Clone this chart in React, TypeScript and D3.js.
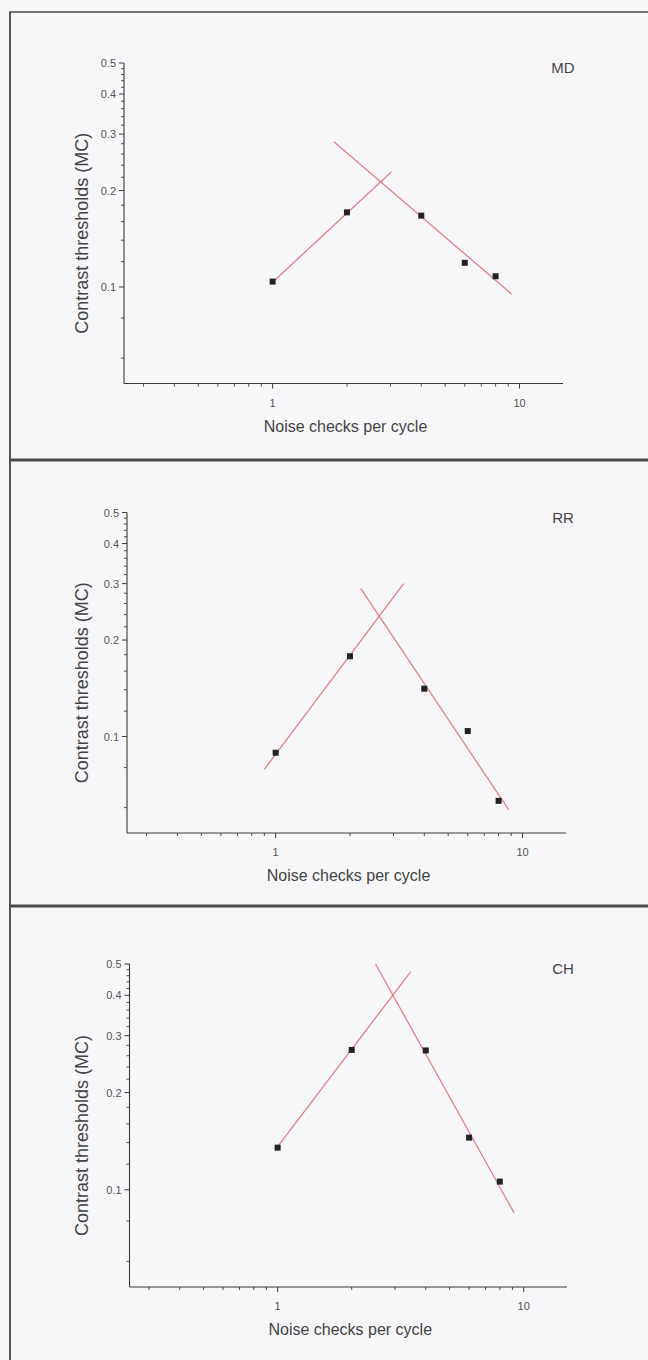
import React from "react";
import * as d3 from "d3";

// ---- data ----
const subjects = ["MD", "RR", "CH"];
const noiseChecks = [1, 2, 4, 6, 8];
const mdThresholds = [0.104, 0.171, 0.167, 0.119, 0.108];
const rrThresholds = [0.089, 0.178, 0.141, 0.104, 0.063];
const chThresholds = [0.135, 0.271, 0.27, 0.145, 0.106];

// fitted lines: [x, y] endpoints
const mdRiseFit = [[1.02, 0.105], [3.03, 0.229]];
const mdFallFit = [[1.77, 0.284], [9.3, 0.095]];
const rrRiseFit = [[0.9, 0.079], [3.3, 0.3]];
const rrFallFit = [[2.21, 0.29], [8.8, 0.059]];
const chRiseFit = [[1.0, 0.136], [3.47, 0.473]];
const chFallFit = [[2.5, 0.5], [9.13, 0.085]];

const xDomain = [0.25, 15];
const yDomain = [0.05, 0.5];
const xTickValues = [1, 10];
const xMinorTicks = [0.3, 0.4, 0.5, 0.6, 0.7, 0.8, 0.9, 2, 3, 4, 5, 6, 7, 8, 9];
const yTickValues = [0.1, 0.2, 0.3, 0.4, 0.5];
const yTickLabels = ["0.1", "0.2", "0.3", "0.4", "0.5"];
const yMinorTicks = [0.06, 0.08, 0.12, 0.14, 0.16, 0.18, 0.22, 0.24, 0.26, 0.28, 0.32, 0.34, 0.36, 0.38, 0.42, 0.44, 0.46, 0.48];
const xTitle = "Noise checks per cycle";
const yTitle = "Contrast thresholds (MC)";

const seriesValues = [mdThresholds, rrThresholds, chThresholds];
const riseFits = [mdRiseFit, rrRiseFit, chRiseFit];
const fallFits = [mdFallFit, rrFallFit, chFallFit];

// ---- layout ----
const W = 648;
const H = 1360;
const panelLayout = [
  { border: 12, top: 63, bottom: 383.5, left: 124, right: 563 },
  { border: 460, top: 512.5, bottom: 833, left: 127, right: 566 },
  { border: 906, top: 964, bottom: 1287, left: 129.5, right: 567 },
];

const FONT = "'Liberation Sans', Arial, sans-serif";
const LINE_COLOR = "#e47f88";
const AXIS_COLOR = "#3a3a3a";
const TEXT_COLOR = "#555";

function Panel({ idx }: { idx: number }) {
  const L = panelLayout[idx];
  const x = d3.scaleLog().domain(xDomain).range([L.left, L.right]);
  const y = d3.scaleLog().domain(yDomain).range([L.bottom, L.top]);
  const line = d3
    .line<number[]>()
    .x((d) => x(d[0]))
    .y((d) => y(d[1]));
  const vals = seriesValues[idx];
  const midX = (L.left + L.right) / 2 + 2;
  const midY = (L.top + L.bottom) / 2 + 10;
  return (
    <g>
      {/* panel border line */}
      <line x1={9} x2={W} y1={L.border} y2={L.border} stroke="#4a4a4a" strokeWidth={idx === 0 ? 1.6 : 3} />
      {/* axes */}
      <line x1={L.left} x2={L.left} y1={L.top} y2={L.bottom} stroke={AXIS_COLOR} strokeWidth={1.1} />
      <line x1={L.left} x2={L.right} y1={L.bottom} y2={L.bottom} stroke={AXIS_COLOR} strokeWidth={1.1} />
      {yTickValues.map((v, i) => (
        <g key={"yt" + i}>
          <line x1={L.left - 5} x2={L.left} y1={y(v)} y2={y(v)} stroke={AXIS_COLOR} strokeWidth={1} />
          <text x={L.left - 8} y={y(v) + 4} textAnchor="end" fontSize={11} fill={TEXT_COLOR} fontFamily={FONT}>
            {yTickLabels[i]}
          </text>
        </g>
      ))}
      {yMinorTicks.map((v, i) => (
        <line key={"ym" + i} x1={L.left - 3} x2={L.left} y1={y(v)} y2={y(v)} stroke={AXIS_COLOR} strokeWidth={0.9} />
      ))}
      {xTickValues.map((v, i) => (
        <g key={"xt" + i}>
          <line x1={x(v)} x2={x(v)} y1={L.bottom} y2={L.bottom + 5} stroke={AXIS_COLOR} strokeWidth={1} />
          <text x={x(v)} y={L.bottom + 23} textAnchor="middle" fontSize={11} fill={TEXT_COLOR} fontFamily={FONT}>
            {String(v)}
          </text>
        </g>
      ))}
      {xMinorTicks.map((v, i) => (
        <line key={"xm" + i} x1={x(v)} x2={x(v)} y1={L.bottom} y2={L.bottom + 3} stroke={AXIS_COLOR} strokeWidth={0.9} />
      ))}
      {/* titles */}
      <text x={midX} y={L.bottom + 48} textAnchor="middle" fontSize={16} fill="#444" fontFamily={FONT}>
        {xTitle}
      </text>
      <text
        transform={`translate(88,${midY}) rotate(-90)`}
        textAnchor="middle"
        fontSize={18}
        fill="#444"
        fontFamily={FONT}
      >
        {yTitle}
      </text>
      <text x={563} y={L.top + 10} textAnchor="middle" fontSize={15} fill="#444" fontFamily={FONT}>
        {subjects[idx]}
      </text>
      {/* fits */}
      <path d={line(riseFits[idx]) || ""} fill="none" stroke={LINE_COLOR} strokeWidth={1.3} />
      <path d={line(fallFits[idx]) || ""} fill="none" stroke={LINE_COLOR} strokeWidth={1.3} />
      {/* points */}
      {noiseChecks.map((c, i) => (
        <rect key={"p" + i} x={x(c) - 3} y={y(vals[i]) - 3} width={6} height={6} fill="#222" />
      ))}
    </g>
  );
}

export default function App() {
  return (
    <svg
      width={W}
      height={H}
      style={{ position: "absolute", left: 0, top: 0, background: "#f7f7f9" }}
    >
      <rect x={0} y={0} width={W} height={H} fill="#f7f7f9" />
      <line x1={10} x2={10} y1={12} y2={H} stroke="#555" strokeWidth={2} />
      {subjects.map((s, i) => (
        <Panel key={s} idx={i} />
      ))}
    </svg>
  );
}
